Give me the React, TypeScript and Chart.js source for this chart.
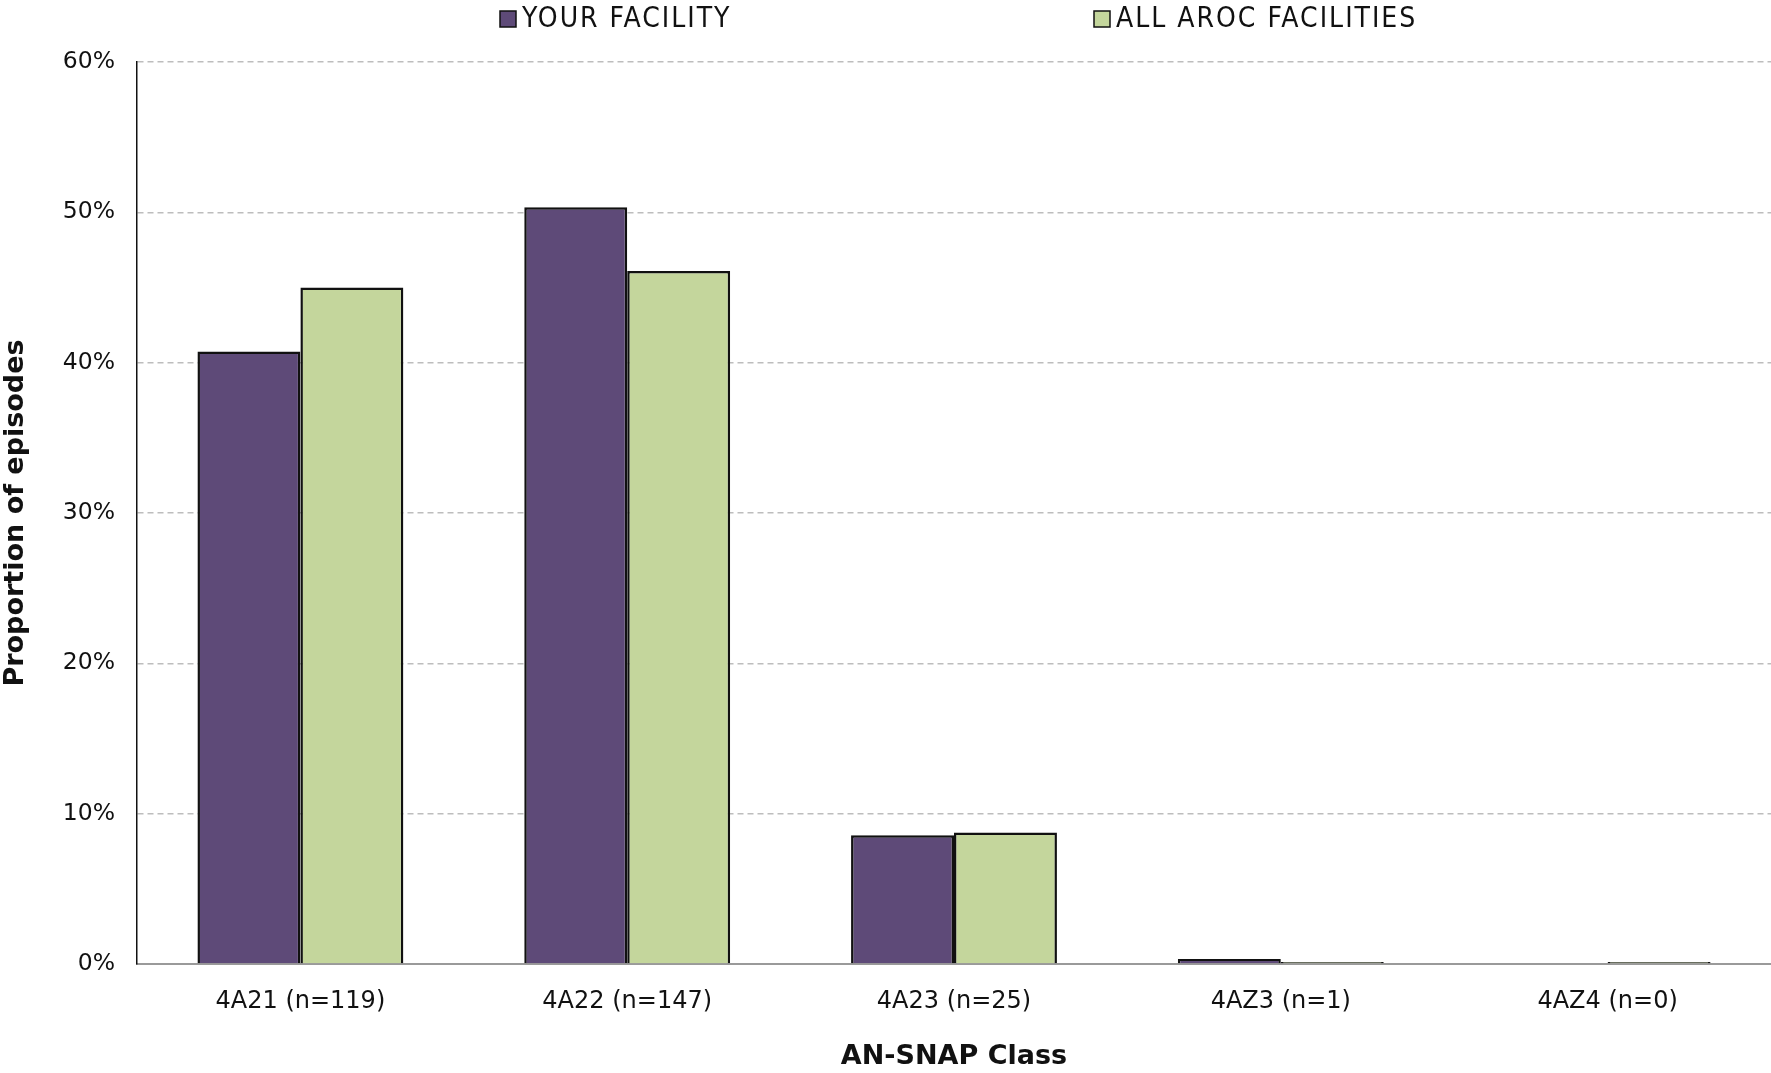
import React, { useEffect, useRef } from "react";
import { Chart, registerables } from "chart.js";

Chart.register(...registerables);

const categories = ["4A21 (n=119)", "4A22 (n=147)", "4A23 (n=25)", "4AZ3 (n=1)", "4AZ4 (n=0)"];
const yourFacility = [40.75, 50.34, 8.56, 0.34, 0];
const allAroc = [45.0, 46.1, 8.74, 0.13, 0.13];
const seriesNames = ["YOUR FACILITY", "ALL AROC FACILITIES"];
const seriesColors = ["#5e4a78", "#c4d69c"];

const FONT = "'DejaVu Sans', 'Noto Sans', sans-serif";

const legendPlugin = {
  id: "customLegend",
  afterDraw(chart: any) {
    const ctx = chart.ctx;
    const area = chart.chartArea;
    const offsets = [363, 957];
    ctx.save();
    seriesNames.forEach((name, i) => {
      const x = area.left + offsets[i];
      const y = 19;
      ctx.fillStyle = seriesColors[i];
      ctx.fillRect(x, y - 8, 16, 16);
      ctx.lineWidth = 1.5;
      ctx.strokeStyle = "#111";
      ctx.strokeRect(x, y - 8, 16, 16);
      ctx.fillStyle = "#111";
      ctx.font = "28px 'DejaVu Sans Condensed', 'DejaVu Sans', sans-serif";
      try {
        (ctx as any).letterSpacing = "2px";
      } catch (e) {}
      ctx.textBaseline = "middle";
      ctx.textAlign = "left";
      ctx.fillText(name, x + 22, y + 1);
    });
    ctx.restore();
  },
};

export default function App() {
  const ref = useRef<HTMLCanvasElement>(null);
  useEffect(() => {
    document.body.style.margin = "0";
    const chart = new Chart(ref.current!, {
      type: "bar",
      data: {
        labels: categories,
        datasets: [
          {
            label: seriesNames[0],
            data: yourFacility,
            backgroundColor: seriesColors[0],
            borderColor: "#111",
            borderWidth: 2.5,
            categoryPercentage: 0.63,
            barPercentage: 1,
          },
          {
            label: seriesNames[1],
            data: allAroc,
            backgroundColor: seriesColors[1],
            borderColor: "#111",
            borderWidth: 2.5,
            categoryPercentage: 0.63,
            barPercentage: 1,
          },
        ],
      },
      options: {
        animation: false,
        responsive: false,
        maintainAspectRatio: false,
        layout: { padding: { top: 62, right: 0, left: 0, bottom: 0 } },
        plugins: {
          legend: { display: false },
          tooltip: { enabled: false },
        },
        scales: {
          x: {
            grid: { display: false },
            border: { display: true, color: "#9a9a9a", width: 2 },
            ticks: { color: "#111", font: { family: FONT, size: 24 }, padding: 15 },
            title: {
              display: true,
              text: "AN-SNAP Class",
              color: "#111",
              font: { family: FONT, size: 27, weight: "bold" },
              padding: { top: 0, bottom: 0 },
            },
            afterFit: (scale: any) => {
              scale.height = 109;
            },
          },
          y: {
            min: 0,
            max: 60,
            ticks: {
              stepSize: 10,
              color: "#111",
              font: { family: FONT, size: 23.5 },
              padding: 22,
              callback: (v: any) => v + "%",
            },
            grid: { color: "#bdbdbd", lineWidth: 1.5, drawTicks: false },
            border: { display: true, color: "#111", width: 1.5, dash: [6, 4] },
            title: {
              display: true,
              text: "Proportion of episodes",
              color: "#111",
              font: { family: FONT, size: 27, weight: "bold" },
              padding: { top: 0, bottom: 0 },
            },
            afterFit: (scale: any) => {
              scale.width = 137;
            },
          },
        },
      },
      plugins: [legendPlugin],
    });
    return () => chart.destroy();
  }, []);
  return (
    <div style={{ position: "fixed", left: 0, top: 0, width: 1771, height: 1073, background: "#fff" }}>
      <canvas ref={ref} width={1771} height={1073} />
    </div>
  );
}
